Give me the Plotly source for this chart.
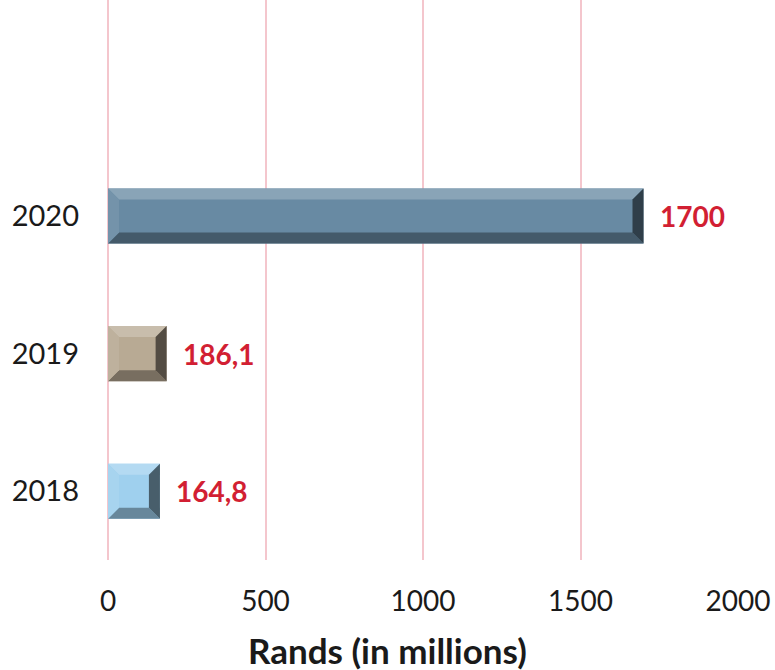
import plotly.graph_objects as go

years = ["2018", "2019", "2020"]
values = [164.8, 186.1, 1700]
labels = ["164,8", "186,1", "1700"]
colors = ["#9fd0ee", "#b8aa94", "#688aa3"]
x_ticks = [0, 500, 1000, 1500, 2000]

W, H = 775, 670
ML, MR, MT, MB = 108, 37, 0, 110
XMAX = 2000
YMIN, YMAX = -0.5, 3.57
BAR_W = 0.4
px_x = (W - ML - MR) / XMAX
px_y = (H - MT - MB) / (YMAX - YMIN)


def mix(hexc, t, target):
    c = [int(hexc[i:i + 2], 16) for i in (1, 3, 5)]
    tg = (255, 255, 255) if target == "w" else (0, 0, 0)
    r = [round(a + (b - a) * t) for a, b in zip(c, tg)]
    return "#%02x%02x%02x" % tuple(r)


fig = go.Figure()
fig.add_trace(go.Bar(
    y=list(range(len(years))), x=values, orientation="h", width=BAR_W,
    marker=dict(color=colors, line=dict(width=0)),
    hoverinfo="x",
))

shapes = []
bx = 11 / px_x
by = 11 / px_y
for i, (v, c) in enumerate(zip(values, colors)):
    x0, x1 = 0, v
    y0, y1 = i - BAR_W / 2, i + BAR_W / 2
    ix0, ix1, iy0, iy1 = x0 + bx, x1 - bx, y0 + by, y1 - by
    polys = [
        ([(x0, y1), (x1, y1), (ix1, iy1), (ix0, iy1)], mix(c, 0.22, "w")),
        ([(x0, y0), (x1, y0), (ix1, iy0), (ix0, iy0)], mix(c, 0.35, "b")),
        ([(x0, y0), (x0, y1), (ix0, iy1), (ix0, iy0)], mix(c, 0.08, "w")),
        ([(x1, y0), (x1, y1), (ix1, iy1), (ix1, iy0)], mix(c, 0.55, "b")),
    ]
    for pts, col in polys:
        path = "M " + " L ".join(f"{px},{py}" for px, py in pts) + " Z"
        shapes.append(dict(type="path", path=path, xref="x", yref="y",
                           fillcolor=col, line=dict(width=0), layer="above"))

annotations = []
for i, (v, lab) in enumerate(zip(values, labels)):
    annotations.append(dict(
        x=v, y=i, xref="x", yref="y", text="<b>" + lab + "</b>",
        showarrow=False, xanchor="left", yanchor="middle", xshift=14,
        font=dict(family="Lato", size=28, color="#d21f33"),
    ))
annotations.append(dict(
    x=(W / 2 - ML) / (W - ML - MR), y=0, xref="paper", yref="paper",
    text="<b>Rands (in millions)</b>", showarrow=False,
    xanchor="center", yanchor="middle", yshift=-90,
    font=dict(family="Lato", size=35, color="#1a1a1a"),
))

fig.update_layout(
    width=W, height=H,
    margin=dict(l=ML, r=MR, t=MT, b=MB),
    paper_bgcolor="white", plot_bgcolor="white",
    showlegend=False,
    shapes=shapes, annotations=annotations,
    xaxis=dict(
        range=[0, XMAX], tickvals=x_ticks, ticktext=[str(t) for t in x_ticks],
        showgrid=True, gridcolor="#f4c6cd", gridwidth=1.5,
        zeroline=True, zerolinecolor="#f4c6cd", zerolinewidth=1.5,
        showline=False, ticks="", ticklabelstandoff=22,
        tickfont=dict(family="Lato", size=28, color="#1a1a1a"),
    ),
    yaxis=dict(
        range=[YMIN, YMAX], tickvals=list(range(len(years))), ticktext=years,
        showgrid=False, zeroline=False, showline=False,
        ticks="", ticklabelstandoff=28,
        tickfont=dict(family="Lato", size=29, color="#1a1a1a"),
    ),
)

fig.write_html("out.html")
